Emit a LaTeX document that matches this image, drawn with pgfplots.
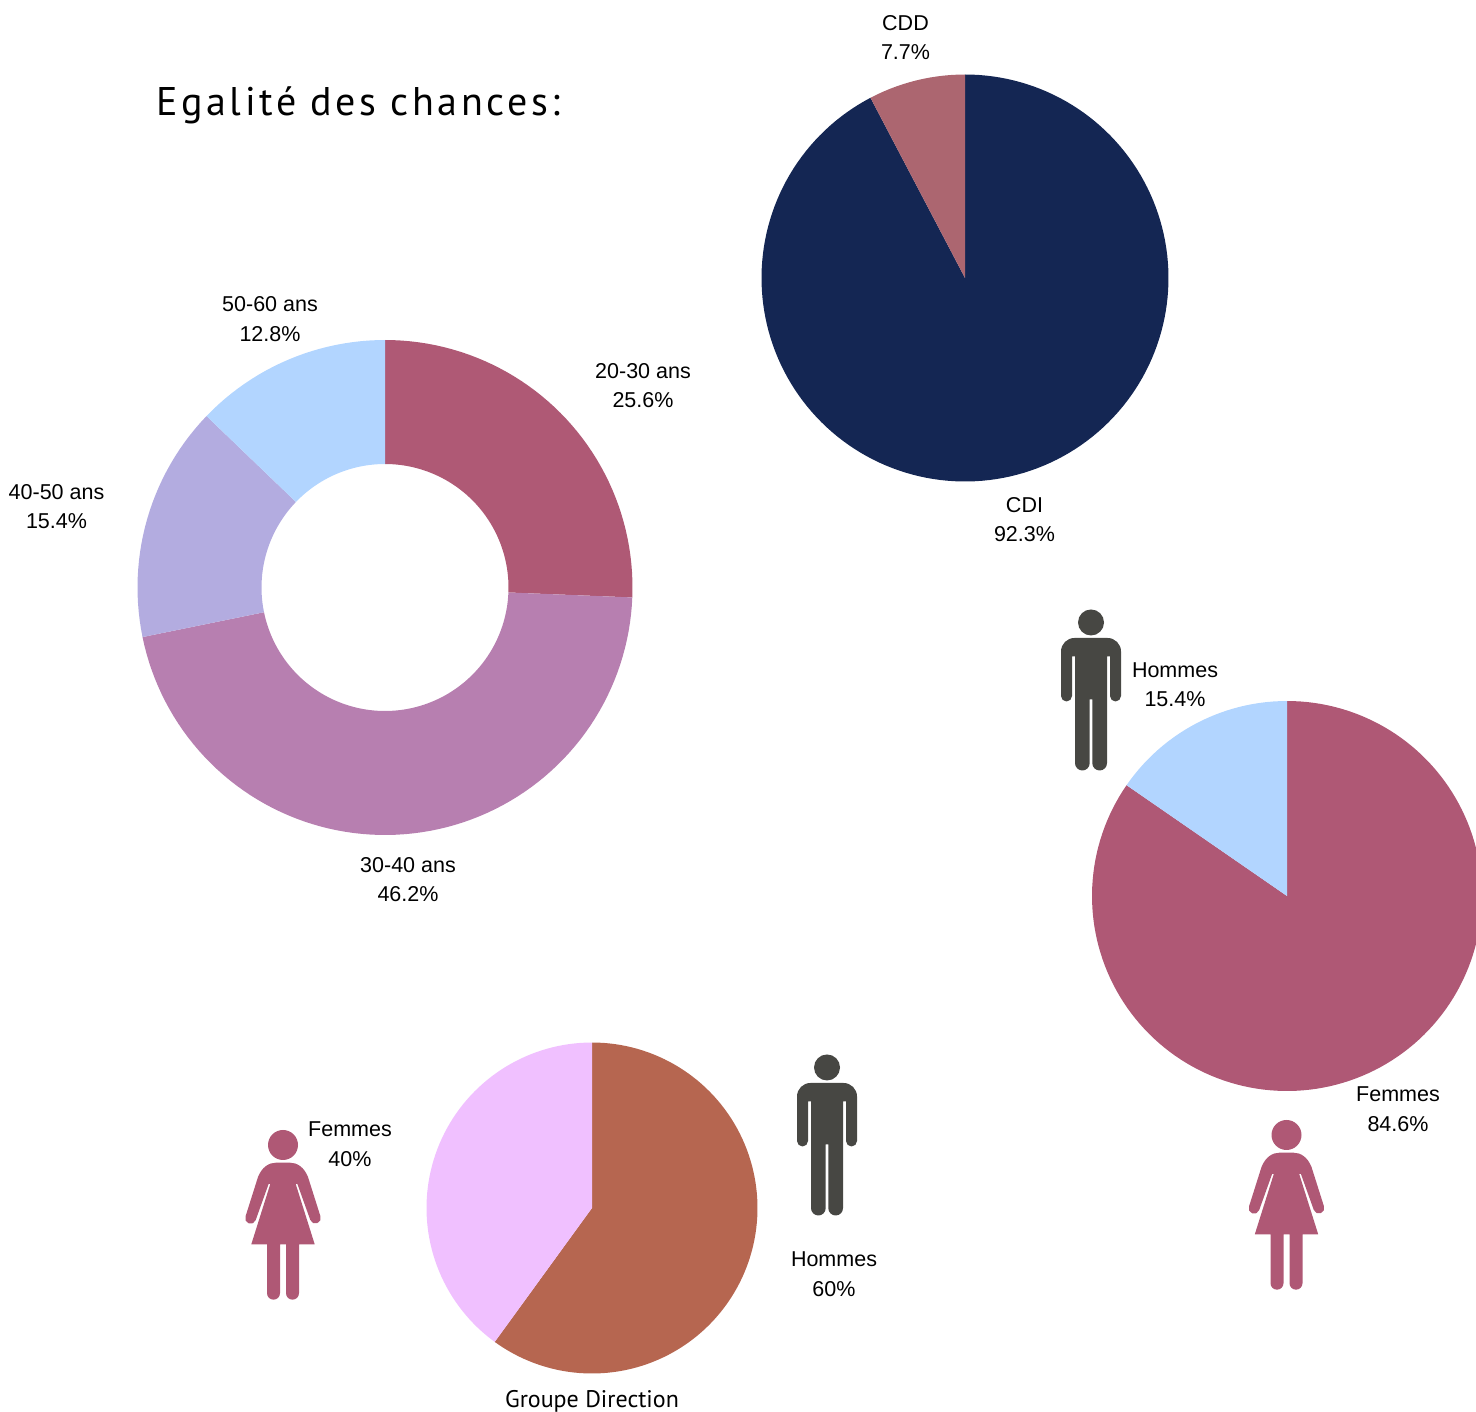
\documentclass[border=0pt]{standalone}
\usepackage{fontspec}
\setmainfont{Liberation Sans}
\newfontfamily\titlefont[LetterSpace=9]{PT Sans}
\newfontfamily\subfont{PT Sans}
\usepackage{pgfplots}
\pgfplotsset{compat=1.18}
\definecolor{navy}{HTML}{142653}
\definecolor{cdd}{HTML}{AC6670}
\definecolor{rosea}{HTML}{AF5975}
\definecolor{mauve}{HTML}{B77FB0}
\definecolor{lilac}{HTML}{B3ACE0}
\definecolor{sky}{HTML}{B2D5FF}
\definecolor{rose}{HTML}{AF5875}
\definecolor{brick}{HTML}{B66650}
\definecolor{pinkl}{HTML}{F0C0FF}
\definecolor{man}{HTML}{474743}
% slice: cx, cy, inner r, outer r, start %, end %, colour (clockwise from 12 o'clock)
\newcommand{\slice}[7]{%
  \pgfmathsetmacro\sa{#5*3.6}\pgfmathsetmacro\sb{#6*3.6}%
  \pgfmathtruncatemacro\sn{ceil((\sb-\sa)/2)}%
  \pgfmathsetmacro\sd{(\sb-\sa)/\sn}%
  \gdef\clist{}%
  \foreach \i in {0,...,\sn}{%
    \pgfmathsetmacro\st{\sa+\sd*\i}%
    \pgfmathsetmacro\sx{#1+#4*sin(\st)}%
    \pgfmathsetmacro\sy{#2-#4*cos(\st)}%
    \xdef\clist{\clist (\sx,\sy)}}%
  \foreach \i in {0,...,\sn}{%
    \pgfmathsetmacro\st{\sb-\sd*\i}%
    \pgfmathsetmacro\sx{#1+#3*sin(\st)}%
    \pgfmathsetmacro\sy{#2-#3*cos(\st)}%
    \xdef\clist{\clist (\sx,\sy)}}%
  \edef\tmp{\noexpand\addplot[fill=#7,draw=none,forget plot] coordinates {\clist};}\tmp}
% label: x, y of first line, first line, second line, y of second line
\newcommand{\lab}[5]{%
  \node[anchor=base,inner sep=0pt,font=\fontsize{21.5}{25}\selectfont] at (axis cs:#1,#2+7.5) {#3};
  \node[anchor=base,inner sep=0pt,font=\fontsize{21.5}{25}\selectfont] at (axis cs:#1,#5+7.5) {#4};}
\newcommand{\manicon}[2]{% head-centre x, top y
  \begin{scope}[shift={(#1pt,1412pt-#2pt)},x=1pt,y=-1pt]
  \fill[man] (0,13) circle[radius=13pt];
  \fill[man] (-30,86.5) -- (-30,42) arc(180:270:13.5) -- (16.5,28.5) arc(270:360:13.5)
    -- (30,86.5) arc(0:180:5.5) -- (19,47) -- (16,47) -- (16,153.65) arc(0:180:7.35)
    -- (1.3,90) -- (-1.3,90) -- (-1.3,153.65) arc(0:180:7.35)
    -- (-16,47) -- (-19,47) -- (-19,86.5) arc(0:180:5.5) -- cycle;
  \end{scope}}
\newcommand{\womanicon}[2]{%
  \begin{scope}[shift={(#1pt,1412pt-#2pt)},x=1pt,y=-1pt]
  \fill[rose] (0,15) circle[radius=15pt];
  \fill[rose] (-31.7,114.3) -- (-16,114.3) -- (-16,163.2) arc(180:0:6.5) -- (-3,114.3)
    -- (3,114.3) -- (3,163.2) arc(180:0:6.5) -- (16,114.3) -- (31.7,114.3)
    -- (12.7,54) -- (14.4,54) -- (27.3,90) arc(160:-20:5.4) -- (25,47)
    .. controls (21,37) and (14,32.7) .. (7,32.7) -- (-7,32.7)
    .. controls (-14,32.7) and (-21,37) .. (-25,47) -- (-37.5,86.5)
    arc(200:20:5.4) -- (-14.4,54) -- (-12.7,54) -- cycle;
  \end{scope}}
\begin{document}
\begin{tikzpicture}[x=1pt,y=1pt]
\path[use as bounding box] (0,0) rectangle (1476pt,1412pt);
\begin{axis}[at={(0pt,0pt)},anchor=south west,width=1476pt,height=1412pt,scale only axis,
  xmin=0,xmax=1476,ymin=0,ymax=1412,y dir=reverse,hide axis]
% CDI / CDD
\slice{965}{278}{0}{203.5}{0}{92.31}{navy}
\slice{965}{278}{0}{203.5}{92.31}{100}{cdd}
% Age donut
\slice{385}{587.5}{123.5}{247.5}{0}{25.64}{rosea}
\slice{385}{587.5}{123.5}{247.5}{25.64}{71.79}{mauve}
\slice{385}{587.5}{123.5}{247.5}{71.79}{87.18}{lilac}
\slice{385}{587.5}{123.5}{247.5}{87.18}{100}{sky}
% Femmes / Hommes
\slice{1287}{896}{0}{195}{0}{84.62}{rose}
\slice{1287}{896}{0}{195}{84.62}{100}{sky}
% Groupe Direction
\slice{592}{1208}{0}{165.5}{0}{60}{brick}
\slice{592}{1208}{0}{165.5}{60}{100}{pinkl}
\lab{905.5}{23}{CDD}{7.7\%}{52}
\lab{1024.5}{505}{CDI}{92.3\%}{534}
\lab{270}{304}{50-60 ans}{12.8\%}{334}
\lab{643}{371}{20-30 ans}{25.6\%}{400}
\lab{56.5}{492}{40-50 ans}{15.4\%}{521}
\lab{408}{865}{30-40 ans}{46.2\%}{894}
\lab{1175}{670}{Hommes}{15.4\%}{699}
\lab{1398}{1094}{Femmes}{84.6\%}{1124}
\lab{350}{1129}{Femmes}{40\%}{1159}
\lab{834}{1259}{Hommes}{60\%}{1289}
\node[anchor=base west,inner sep=0pt,font=\fontsize{40}{48}\titlefont] at (axis cs:156,116) {Egalité des chances:};
\node[anchor=base,inner sep=0pt,font=\fontsize{24}{28}\subfont] at (axis cs:592,1407) {Groupe Direction};
\end{axis}
\manicon{1091}{609.5}
\manicon{827}{1054.5}
\womanicon{283}{1130}
\womanicon{1286.5}{1120}
\end{tikzpicture}
\end{document}
